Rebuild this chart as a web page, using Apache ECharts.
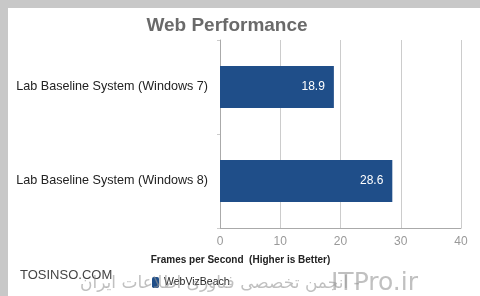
<!DOCTYPE html>
<html><head><meta charset="utf-8">
<script src="https://cdn.jsdelivr.net/npm/echarts@6/dist/echarts.min.js"></script>
<style>html,body{margin:0;padding:0;background:#fff}#c{width:480px;height:296px}</style>
</head><body><div id="c"></div>
<script>
const categories = ['Lab Baseline System (Windows 8)', 'Lab Baseline System (Windows 7)'];
const seriesName = 'WebVizBeach';
const values = [28.6, 18.9];
const xTicks = [0, 10, 20, 30, 40];

const chart = echarts.init(document.getElementById('c'), null, {renderer: 'canvas'});
chart.setOption({
  backgroundColor: '#fff',
  animation: false,
  title: {
    text: 'Web Performance', left: 222, top: 11, textAlign: 'center',
    textStyle: {fontFamily: 'Liberation Sans', fontSize: 19, fontWeight: 'bold', color: '#6a6a6a'}
  },
  legend: {
    data: [seriesName], left: 147, top: 272, itemWidth: 7, itemHeight: 11, itemGap: 4,
    textStyle: {fontFamily: 'Liberation Sans', fontSize: 10.5, color: '#222'}
  },
  grid: {left: 220, right: 19, top: 40, bottom: 68},
  xAxis: {
    type: 'value', min: xTicks[0], max: xTicks[xTicks.length - 1], interval: 10,
    name: 'Frames per Second  (Higher is Better)', nameLocation: 'middle', nameGap: 27,
    nameTextStyle: {fontFamily: 'Liberation Sans', fontSize: 10, fontWeight: 'bold', color: '#222', padding: [0, 200, 0, 0]},
    axisLine: {show: true, lineStyle: {color: '#aaa'}},
    axisTick: {show: false},
    axisLabel: {fontFamily: 'Liberation Sans', fontSize: 12, color: '#999', margin: 8},
    splitLine: {show: true, lineStyle: {color: '#ccc'}}
  },
  yAxis: {
    type: 'category', data: categories,
    axisLine: {show: true, lineStyle: {color: '#aaa'}},
    axisTick: {show: true, length: 3, lineStyle: {color: '#ccc'}},
    axisLabel: {fontFamily: 'Liberation Sans', fontSize: 12.6, color: '#222', margin: 12}
  },
  series: [{
    name: seriesName, type: 'bar', data: values, barWidth: 42,
    itemStyle: {color: '#1f4e89'},
    label: {show: true, position: 'insideRight', distance: 9, color: '#fff',
      fontFamily: 'Liberation Sans', fontSize: 12}
  }],
  graphic: [
    {type: 'rect', left: 0, top: 0, shape: {width: 480, height: 296},
      style: {fill: 'none', stroke: '#c8c8c8', lineWidth: 8}, silent: true, z: 100},
    {type: 'text', left: 20, top: 269, style: {text: 'TOSINSO.COM', fontFamily: 'Liberation Sans',
      fontSize: 13, fill: '#444'}, z: 101},
    {type: 'text', left: 80, top: 275, style: {text: 'انجمن تخصصی فناوری اطلاعات ایران -', fontFamily: 'DejaVu Sans',
      fontSize: 17, fill: 'rgba(150,150,150,0.6)'}, z: 101},
    {type: 'text', left: 331, top: 271, style: {text: 'ITPro.ir', fontFamily: 'DejaVu Sans',
      fontSize: 25, fill: 'rgba(150,150,150,0.6)'}, z: 101}
  ]
});
</script></body></html>
